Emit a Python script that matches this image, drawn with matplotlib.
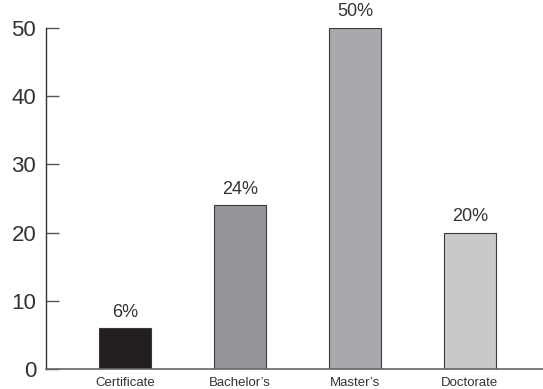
import matplotlib.pyplot as plt

plt.rcParams["font.family"] = ["Liberation Sans", "DejaVu Sans"]

degrees = ["Certificate", "Bachelor’s", "Master’s", "Doctorate"]
shares = [6, 24, 50, 20]
bar_colors = ["#231f20", "#939598", "#a7a9ac", "#c8c9cb"]
y_ticks = [0, 10, 20, 30, 40, 50]

fig = plt.figure(figsize=(5.43, 3.89), dpi=100)
ax = fig.add_axes([46 / 543, 20 / 389, 497 / 543, 341 / 389])

x = range(len(degrees))
bars = ax.bar(x, shares, width=0.45, color=bar_colors,
              edgecolor="#3a3a3a", linewidth=0.8, zorder=2)

# value labels sit just above each bar
for rect, val in zip(bars, shares):
    ax.text(rect.get_x() + rect.get_width() / 2, val + 1.1, f"{val}%",
            ha="center", va="bottom", fontsize=13, color="#333333")

ax.set_xlim(-0.687, 3.635)
ax.set_ylim(0, 50)
ax.set_yticks(y_ticks)
ax.set_xticks(list(x))
ax.set_xticklabels(degrees, fontsize=9.5, color="#333333")

ax.spines["top"].set_visible(False)
ax.spines["right"].set_visible(False)
ax.spines["left"].set_color("#333333")
ax.spines["left"].set_linewidth(1.0)
ax.spines["bottom"].set_color("#666666")
ax.spines["bottom"].set_linewidth(1.2)

ax.tick_params(axis="y", direction="in", length=9, width=1.0,
               color="#555555", labelsize=16, labelcolor="#333333", pad=7)
ax.tick_params(axis="x", length=0, pad=6)

fig.savefig("out.png", dpi=100)
